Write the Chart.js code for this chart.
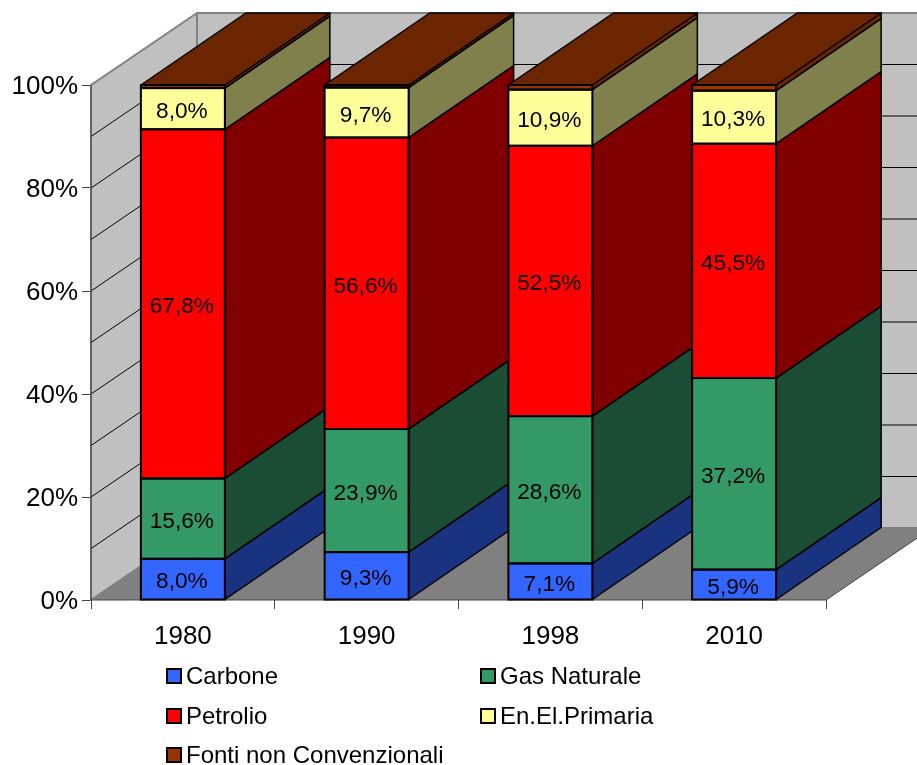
<!DOCTYPE html>
<html>
<head>
<meta charset="utf-8">
<title>Fonti energetiche</title>
<style>
  html, body { margin: 0; background: #fff; }
  #wrap { position: relative; width: 917px; height: 765px; overflow: hidden; }
  canvas { display: block; }
  .key { position: absolute; display: flex; align-items: center; height: 24px; font: 24px "Liberation Sans", Arial, sans-serif; color: #000; white-space: nowrap; }
  .key i { box-sizing: border-box; display: block; width: 16px; height: 16px; border: 2px solid #000; margin-right: 4px; }
</style>
</head>
<body>
<div id="wrap">
  <canvas id="chart" width="917" height="765"></canvas>
</div>
<script src="https://cdn.jsdelivr.net/npm/chart.js@4/dist/chart.umd.js"></script>
<script>
const categories = ['1980', '1990', '1998', '2010'];
const seriesNames = ['Carbone', 'Gas Naturale', 'Petrolio', 'En.El.Primaria', 'Fonti non Convenzionali'];

const carbone = [8.0, 9.3, 7.1, 5.9];
const gasNaturale = [15.6, 23.9, 28.6, 37.2];
const petrolio = [67.8, 56.6, 52.5, 45.5];
const enElPrimaria = [8.0, 9.7, 10.9, 10.3];
const fontiNonConv = [0.6, 0.5, 0.9, 1.1];

const seriesValues = [carbone, gasNaturale, petrolio, enElPrimaria, fontiNonConv];
const frontColors = ['#3366FF', '#339966', '#FF0000', '#FFFF99', '#993300'];
const sideColors = ['#1A3380', '#1A4D33', '#800000', '#80804D', '#6B2500'];
const topColor = '#6B2500';

const FONT = '"Liberation Sans", Arial, sans-serif';
const DEPTH_X = 105;
const DEPTH_Y = -72;

function poly(ctx, pts, fill, stroke, lw) {
  ctx.beginPath();
  pts.forEach((p, i) => i ? ctx.lineTo(p[0], p[1]) : ctx.moveTo(p[0], p[1]));
  ctx.closePath();
  if (fill) { ctx.fillStyle = fill; ctx.fill(); }
  if (stroke) { ctx.strokeStyle = stroke; ctx.lineWidth = lw; ctx.lineJoin = 'round'; ctx.stroke(); }
}

// back wall, left wall, floor and the 3D sides of the bars
const depthPlugin = {
  id: 'depth',
  beforeDatasetsDraw(chart) {
    const { ctx, chartArea: a, scales } = chart;
    const dx = DEPTH_X + 1, dy = DEPTH_Y;
    ctx.save();
    poly(ctx, [[a.left + dx, a.top + dy], [a.right + dx, a.top + dy], [a.right + dx, a.bottom + dy], [a.left + dx, a.bottom + dy]], '#C0C0C0', '#808080', 2);
    poly(ctx, [[a.left, a.top], [a.left + dx, a.top + dy], [a.left + dx, a.bottom + dy], [a.left, a.bottom]], '#C0C0C0', '#808080', 2);
    poly(ctx, [[a.left, a.bottom], [a.right, a.bottom], [a.right + dx, a.bottom + dy], [a.left + dx, a.bottom + dy]], '#808080');

    ctx.strokeStyle = '#000';
    ctx.lineWidth = 1;
    scales.y.ticks.forEach(t => {
      if (t.value === 0 || t.value === 100) return;
      const y = scales.y.getPixelForValue(t.value);
      ctx.beginPath();
      ctx.moveTo(a.left, y);
      ctx.lineTo(a.left + dx, y + dy);
      ctx.lineTo(a.right + dx, y + dy);
      ctx.stroke();
    });

    // axis lines and the front edge of the floor
    ctx.strokeStyle = '#444';
    ctx.beginPath();
    ctx.moveTo(a.left, a.top);
    ctx.lineTo(a.left, a.bottom);
    ctx.lineTo(a.right, a.bottom);
    ctx.lineTo(a.right + dx, a.bottom + dy);
    ctx.stroke();

    categories.forEach((c, j) => {
      seriesValues.forEach((s, i) => {
        const bar = chart.getDatasetMeta(i).data[j];
        const r = bar.x + bar.width / 2;
        poly(ctx, [[r, bar.y], [r + DEPTH_X, bar.y + DEPTH_Y], [r + DEPTH_X, bar.base + DEPTH_Y], [r, bar.base]], sideColors[i], '#000', 1.5);
      });
      const last = chart.getDatasetMeta(seriesValues.length - 1).data[j];
      const l = last.x - last.width / 2, r = last.x + last.width / 2;
      poly(ctx, [[l, last.y], [r, last.y], [r + DEPTH_X, last.y + DEPTH_Y], [l + DEPTH_X, last.y + DEPTH_Y]], topColor, '#000', 1.5);
    });
    ctx.restore();
  },
  afterDatasetsDraw(chart) {
    const { ctx } = chart;
    ctx.save();
    // outlines of the front faces, so that neighbouring segments share one line
    ctx.strokeStyle = '#000';
    ctx.lineWidth = 2;
    seriesValues.forEach((s, i) => {
      chart.getDatasetMeta(i).data.forEach(bar => {
        ctx.strokeRect(bar.x - bar.width / 2, bar.y, bar.width, bar.base - bar.y);
      });
    });

    ctx.font = '22.7px ' + FONT;
    ctx.fillStyle = '#000';
    ctx.textAlign = 'center';
    ctx.textBaseline = 'middle';
    // the last series has no value labels in the picture
    seriesValues.slice(0, -1).forEach((s, i) => {
      chart.getDatasetMeta(i).data.forEach((bar, j) => {
        ctx.fillText(s[j].toFixed(1).replace('.', ',') + '%', bar.x - 1, (bar.y + bar.base) / 2 + 3);
      });
    });
    ctx.restore();
  },
  // y labels sit a little under their tick in the picture, which ticks.padding cannot do
  afterDraw(chart) {
    const { ctx, scales } = chart;
    ctx.save();
    ctx.font = '26px ' + FONT;
    ctx.fillStyle = '#000';
    ctx.textAlign = 'right';
    ctx.textBaseline = 'middle';
    scales.y.ticks.forEach(t => {
      if (t.value % 20 === 0) ctx.fillText(t.value + '%', 78, scales.y.getPixelForValue(t.value) + 2);
    });
    ctx.restore();
  }
};

new Chart(document.getElementById('chart'), {
  type: 'bar',
  data: {
    labels: categories,
    datasets: seriesValues.map((s, i) => ({
      label: seriesNames[i],
      data: s,
      backgroundColor: frontColors[i],
      borderWidth: 0,
      categoryPercentage: 1,
      barPercentage: 0.457
    }))
  },
  options: {
    responsive: false,
    animation: false,
    layout: { padding: { left: 0, right: 91, top: 85, bottom: 0 } },
    plugins: { legend: { display: false }, tooltip: { enabled: false } },
    scales: {
      x: {
        stacked: true,
        afterFit(scale) { scale.height = 165; },
        border: { display: false },
        grid: { offset: true, drawOnChartArea: false, tickLength: 9, tickColor: '#444', drawTicks: true },
        ticks: { color: '#000', font: { family: FONT, size: 26 }, padding: 12, maxRotation: 0 }
      },
      y: {
        stacked: true,
        min: 0,
        max: 100,
        afterFit(scale) { scale.width = 91; },
        border: { display: false },
        grid: {
          drawOnChartArea: false,
          tickLength: 9,
          tickColor: ctx => ctx.tick.value % 20 === 0 ? '#444' : 'rgba(0,0,0,0)'
        },
        ticks: { stepSize: 10, display: false }
      }
    }
  },
  plugins: [depthPlugin]
});

// legend in two columns, built from the series names
const wrap = document.getElementById('wrap');
const legendX = [166, 480];
const legendY = [664, 704, 743];
seriesNames.forEach((name, i) => {
  const key = document.createElement('div');
  key.className = 'key';
  key.style.left = legendX[i % 2] + 'px';
  key.style.top = legendY[Math.floor(i / 2)] + 'px';
  const box = document.createElement('i');
  box.style.background = frontColors[i];
  key.appendChild(box);
  key.appendChild(document.createTextNode(name));
  wrap.appendChild(key);
});
</script>
</body>
</html>
